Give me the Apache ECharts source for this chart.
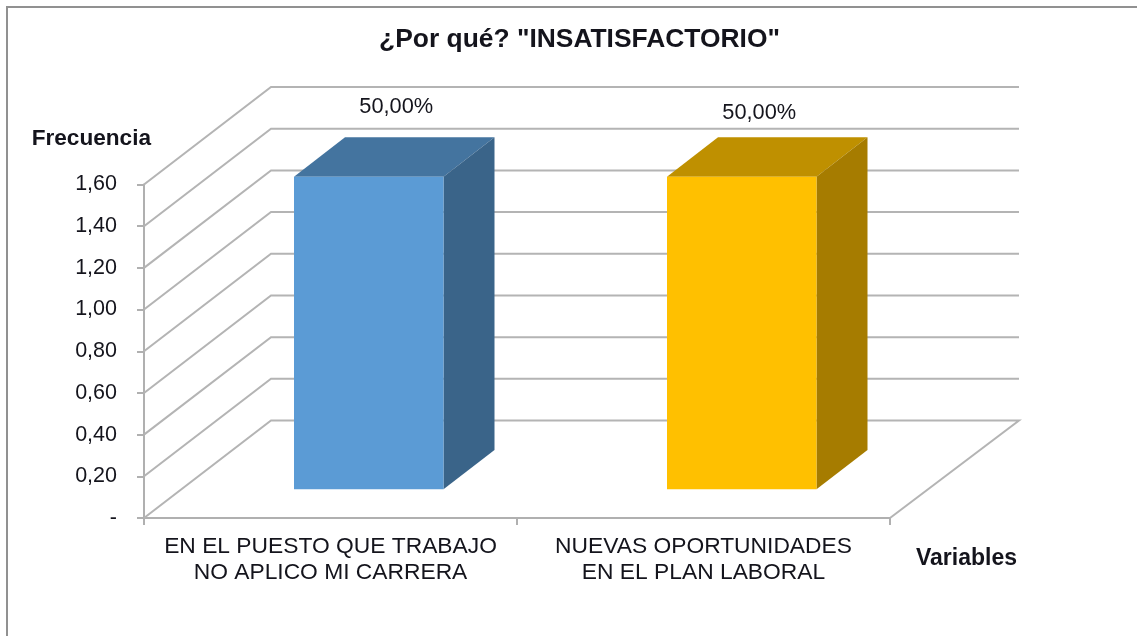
<!DOCTYPE html>
<html>
<head>
<meta charset="utf-8">
<style>html,body{margin:0;padding:0;background:#fff}#c{width:1137px;height:636px}</style>
<script src="https://cdn.jsdelivr.net/npm/echarts@6/dist/echarts.min.js"></script>
</head>
<body>
<div id="c"></div>
<script>
var categories = ['EN EL PUESTO QUE TRABAJO\nNO APLICO MI CARRERA', 'NUEVAS OPORTUNIDADES\nEN EL PLAN LABORAL'];
var values = [1.5, 1.5];
var percentLabels = ['50,00%', '50,00%'];
var wallTicks = [0, 0.2, 0.4, 0.6, 0.8, 1.0, 1.2, 1.4, 1.6];
var tickLabels = ['-', '0,20', '0,40', '0,60', '0,80', '1,00', '1,20', '1,40', '1,60'];
var faceColors = ['#5b9bd5', '#ffc000'];
var topColors = ['#44749f', '#bf9000'];
var sideColors = ['#3a6489', '#a67c00'];

var FONT = '"Liberation Sans", Arial, sans-serif';
var TEXT = '#14141c';
var GRID = '#b4b4b4';
var WALL_DX = 127, WALL_DY = 97.5, WALL_EXTRA = 2;
var BAR_W = 149.5, BAR_DX = 51, BAR_DY = 39.3, BAR_LIFT = 28.7, BAR_SHIFT = 38.25;
var LABEL_DX = [27.5, 17.5], LABEL_Y = [30.8, 24];

var chart = echarts.init(document.getElementById('c'), null, {renderer: 'canvas'});

function renderWall(params, api) {
  var v = api.value(0);
  var cs = params.coordSys;
  var y = api.coord([0, v])[1];
  var x0 = cs.x, x1 = cs.x + cs.width;
  var pts = [[x0, y], [x0 + WALL_DX, y - WALL_DY], [x1 + WALL_DX + WALL_EXTRA, y - WALL_DY]];
  if (v === 0) pts.push([x1, y]);
  return {type: 'polyline', shape: {points: pts}, style: {fill: null, stroke: GRID, lineWidth: 2}, silent: true};
}

function renderBar(params, api) {
  var i = api.value(0);
  var top = api.coord([i, api.value(1)]);
  var base = api.coord([i, 0]);
  var l = top[0] + BAR_SHIFT - BAR_W / 2, r = l + BAR_W;
  var t = top[1] - BAR_LIFT, b = base[1] - BAR_LIFT;
  return {type: 'group', silent: true, children: [
    {type: 'polygon', shape: {points: [[l, t], [r, t], [r + BAR_DX, t - BAR_DY], [l + BAR_DX, t - BAR_DY]]}, style: {fill: topColors[i]}},
    {type: 'polygon', shape: {points: [[r, t], [r + BAR_DX, t - BAR_DY], [r + BAR_DX, b - BAR_DY], [r, b]]}, style: {fill: sideColors[i]}},
    {type: 'rect', shape: {x: l, y: t, width: BAR_W, height: b - t}, style: {fill: faceColors[i]}},
    {type: 'text', x: (l + r) / 2 + LABEL_DX[i], y: t - BAR_DY - LABEL_Y[i], style: {
      text: percentLabels[i], font: '21.8px ' + FONT, fill: TEXT, align: 'center', verticalAlign: 'middle'}}
  ]};
}

chart.setOption({
  animation: false,
  backgroundColor: '#ffffff',
  title: {
    text: '¿Por qué? "INSATISFACTORIO"', left: 574.5, top: 22, textAlign: 'center',
    textStyle: {fontFamily: FONT, fontSize: 26.4, fontWeight: 'bold', color: TEXT}
  },
  graphic: [{
    type: 'polyline', silent: true, z: 0,
    shape: {points: [[7, 636], [7, 7], [1137, 7]]},
    style: {fill: null, stroke: '#919191', lineWidth: 2}
  }],
  grid: {left: 144, top: 184.5, width: 746, height: 333.5, containLabel: false},
  xAxis: {
    type: 'category', data: categories, boundaryGap: true,
    name: 'Variables', nameLocation: 'end', nameGap: 26,
    nameTextStyle: {fontFamily: FONT, fontSize: 23, fontWeight: 'bold', color: TEXT, verticalAlign: 'top', padding: [29, 0, 0, 0]},
    axisLine: {show: true, lineStyle: {color: '#b0b0b0', width: 2}},
    axisTick: {show: true, alignWithLabel: false, length: 7, lineStyle: {color: '#b0b0b0', width: 2}},
    axisLabel: {interval: 0, margin: 16, fontFamily: FONT, fontSize: 22.8, lineHeight: 25.5, color: TEXT, align: 'center'},
    splitLine: {show: false}
  },
  yAxis: {
    type: 'value', min: 0, max: 1.6, interval: 0.2,
    name: 'Frecuencia', nameLocation: 'end', nameGap: 34,
    nameTextStyle: {fontFamily: FONT, fontSize: 22.6, fontWeight: 'bold', color: TEXT, align: 'right', padding: [0, -7, 0, 0]},
    axisLine: {show: true, lineStyle: {color: '#b0b0b0', width: 2}},
    axisTick: {show: true, length: 7, lineStyle: {color: '#b0b0b0', width: 2}},
    axisLabel: {
      margin: 27, padding: [3, 0, 0, 0], fontFamily: FONT, fontSize: 21.5, color: TEXT,
      formatter: function (v) { return tickLabels[Math.round(v / 0.2)]; }
    },
    splitLine: {show: false}
  },
  series: [
    {type: 'custom', coordinateSystem: 'cartesian2d', clip: false, z: 1, silent: true,
     data: wallTicks.map(function (v) { return [v]; }), encode: {y: 0}, renderItem: renderWall},
    {type: 'custom', coordinateSystem: 'cartesian2d', clip: false, z: 3, silent: true,
     data: values.map(function (v, i) { return [i, v]; }), encode: {x: 0, y: 1}, renderItem: renderBar}
  ]
});
</script>
</body>
</html>
